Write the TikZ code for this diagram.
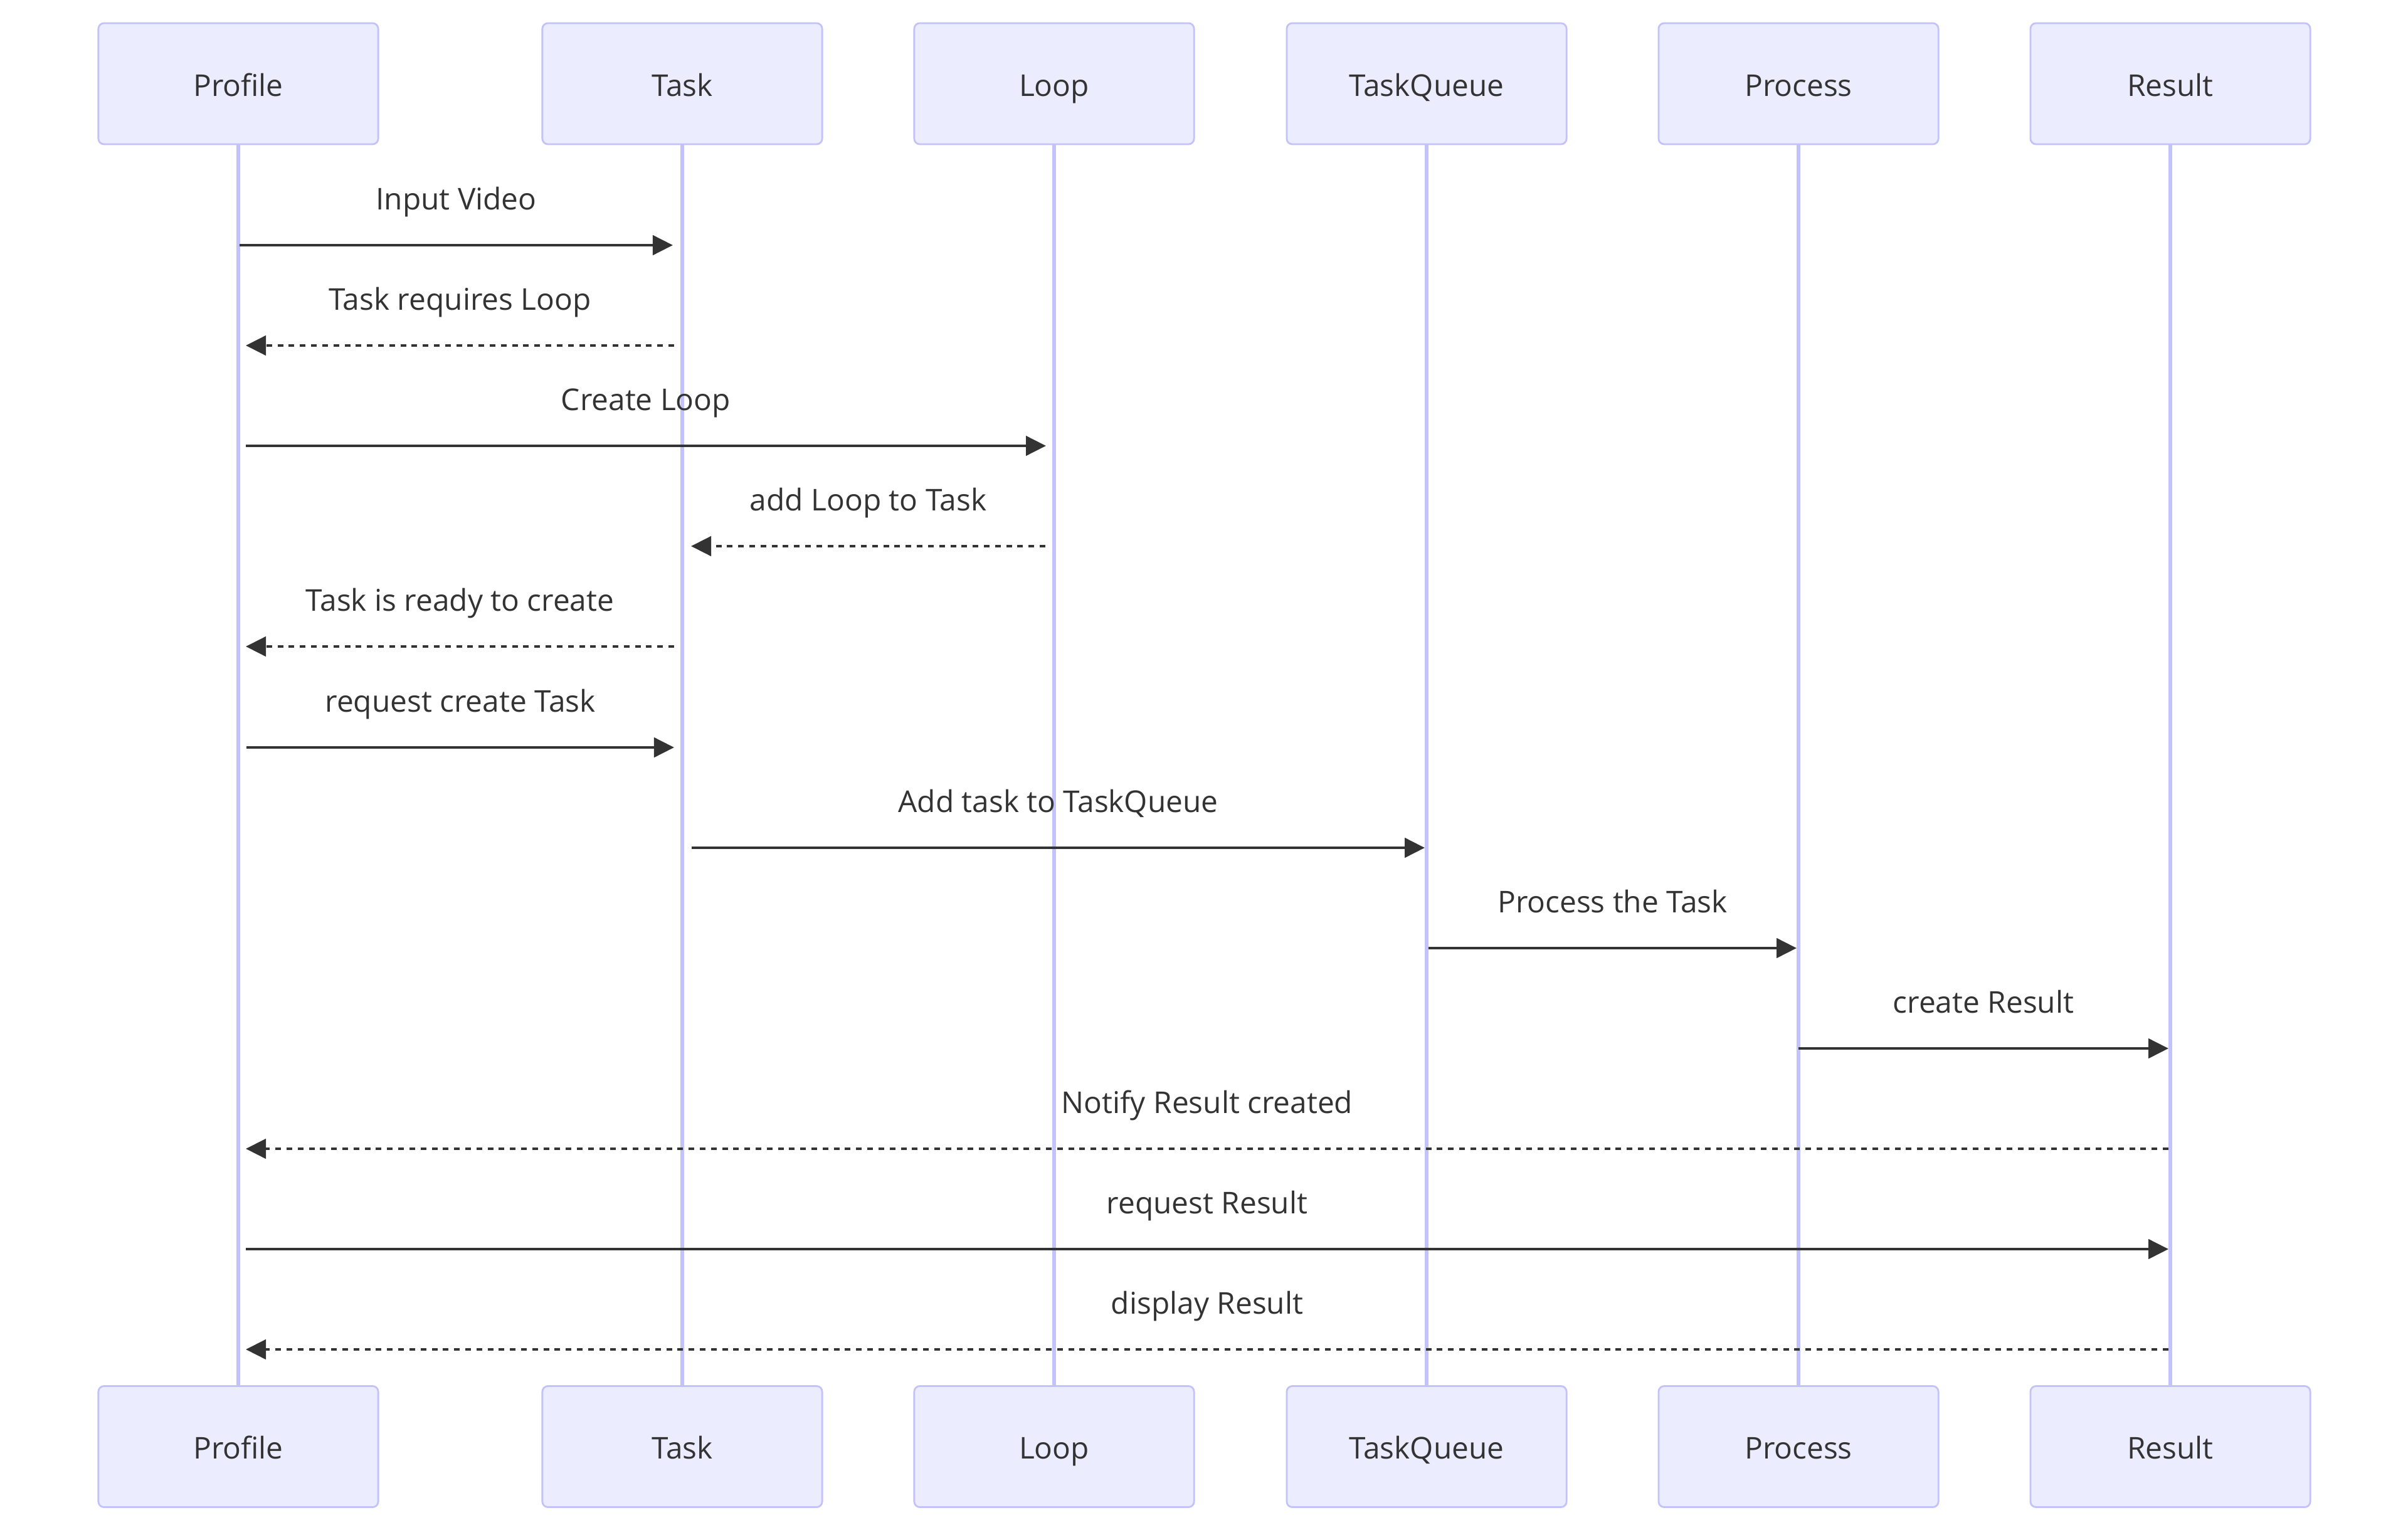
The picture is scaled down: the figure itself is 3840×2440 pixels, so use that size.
\documentclass[tikz,border=0pt]{standalone}
\usepackage{fontspec}
\setmainfont{Open Sans}
\usetikzlibrary{arrows.meta,backgrounds}
\definecolor{actorfill}{HTML}{ECECFF}
\definecolor{actorline}{HTML}{C3C3FA}
\definecolor{ink}{HTML}{333333}
\tikzset{
  actor/.style={draw=actorline, fill=actorfill, line width=0.028cm,
    rounded corners=0.09cm, minimum width=4.46cm, minimum height=1.93cm,
    inner sep=0pt, text=ink, font=\fontsize{13.6}{16}\selectfont,
    text height=0.39cm, text depth=0pt},
  lifeline/.style={draw=actorline, line width=0.055cm},
  msgline/.style={draw=ink, line width=0.048cm,
    -{Triangle[length=0.32cm,width=0.31cm]}},
  reply/.style={msgline, dash pattern=on 0.09cm off 0.088cm},
  msglabel/.style={text=ink, font=\fontsize{13.6}{16}\selectfont,
    anchor=base, inner sep=0pt, yshift=0.56cm},
}
% message: style, sender, receiver, y, sender offset, receiver offset, label
\newcommand\seqmsg[7]{%
  \draw[#1] ([xshift=#5*0.01cm]#2.south |- 0,#4) --
    node[msglabel] {#7} ([xshift=#6*0.01cm]#3.south |- 0,#4);}
\begin{document}
\begin{tikzpicture}[x=0.01cm,y=-0.01cm]
\useasboundingbox (0,0) rectangle (3840,2440);

% participants, top and bottom
\foreach \n/\x/\t in {P/380/Profile, T/1088/Task, L/1681/Loop,
                      Q/2275/TaskQueue, R/2868/Process, S/3461/Result} {
  \node[actor] (\n top) at (\x,133.5) {\t};
  \node[actor] (\n bot) at (\x,2307) {\t};
}

% lifelines behind the boxes
\begin{scope}[on background layer]
  \fill[white] (0,0) rectangle (3840,2440);
  \foreach \n in {P,T,L,Q,R,S}
    \draw[lifeline] (\n top.south) -- (\n bot.north);
\end{scope}

% messages
\seqmsg{msgline}{Ptop}{Ttop}{391}{2}{-15}{Input Video}
\seqmsg{reply}{Ttop}{Ptop}{551}{-13}{12}{Task requires Loop}
\seqmsg{msgline}{Ptop}{Ltop}{711}{12}{-13}{Create Loop}
\seqmsg{reply}{Ltop}{Ttop}{871}{-14}{14}{add Loop to Task}
\seqmsg{reply}{Ttop}{Ptop}{1031}{-13}{12}{Task is ready to create}
\seqmsg{msgline}{Ptop}{Ttop}{1192}{13}{-13}{request create Task}
\seqmsg{msgline}{Ttop}{Qtop}{1352}{15}{-3}{Add task to TaskQueue}
\seqmsg{msgline}{Qtop}{Rtop}{1512}{3}{-3}{Process the Task}
\seqmsg{msgline}{Rtop}{Stop}{1672}{0}{-3}{create Result}
\seqmsg{reply}{Stop}{Ptop}{1832}{-3}{12}{Notify Result created}
\seqmsg{msgline}{Ptop}{Stop}{1992}{12}{-3}{request Result}
\seqmsg{reply}{Stop}{Ptop}{2152}{-3}{12}{display Result}
\end{tikzpicture}
\end{document}
